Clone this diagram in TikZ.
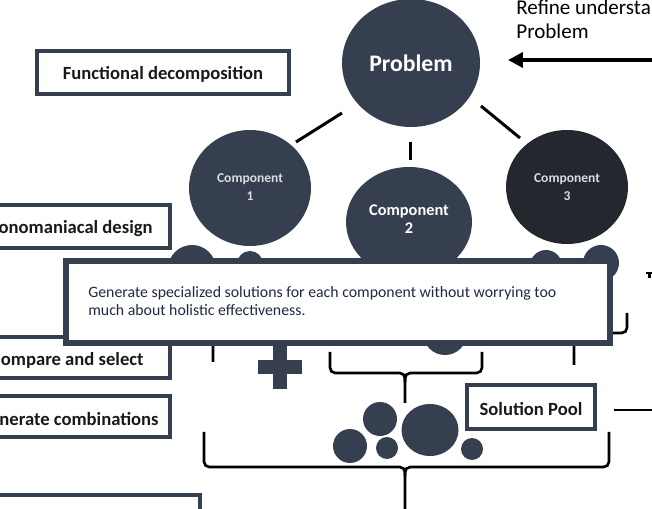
\documentclass[tikz,border=0pt]{standalone}
\usepackage{fontspec}
\setmainfont{Carlito}
\usetikzlibrary{arrows.meta}
\definecolor{slate}{HTML}{353F50}
\definecolor{darkslate}{HTML}{23282F}
\definecolor{bodyink}{HTML}{1E2A45}
\definecolor{pale}{HTML}{D9DCE1}
\def\curlybrace(#1:#2:#3)(#4:#5:#6){%
  \draw[braceline] (#1,#4) -- (#1,#5) -- (#2,#5) -- (#2,#6);
  \draw[braceline] (#3,#4) -- (#3,#5) -- (#2,#5) -- (#2,#5+9);}

\begin{document}
\begin{tikzpicture}[x=0.02cm,y=-0.02cm,
    braceline/.style={line width=1.5pt,rounded corners=3pt},
    stroke/.style={line width=1.7pt},
    boxline/.style={draw=slate,line width=2.3pt},
    boxtext/.style={font=\fontsize{10.6}{12}\selectfont\bfseries,text=black!90,inner sep=0pt},
    comptext/.style={font=\fontsize{7.7}{10.2}\selectfont\bfseries,text=pale,align=center,inner sep=0pt},
    bodytext/.style={font=\fontsize{9}{10}\selectfont,text=bodyink,inner sep=0pt,anchor=base west}]
			\useasboundingbox (0,0) rectangle (652,509);
			\clip (0,0) rectangle (652,509);
			%%%%% START %%%%%
			\fill[slate] (411,63) ellipse (69 and 64);
			\node[font=\fontsize{13.5}{16}\selectfont\bfseries, text=white] (prob) at (411,63) {Problem};
			\draw[-{Triangle[length=8.5pt,width=8.5pt]}, line width=2pt] (652,60) -- (508,60);
			\node[font=\fontsize{12}{14}\selectfont, anchor=base west, inner sep=0pt] (refineA) at (516,15) {Refine understa};
			\node[font=\fontsize{12}{14}\selectfont, anchor=base west, inner sep=0pt] (refineB) at (516,39) {Problem};
			
			\fill[slate] (250,188) ellipse (61 and 58);
			\node[comptext] (c1) at (250,187) {Component\\1};
			\fill[slate] (409,222) ellipse (63 and 55);
			\node[comptext, font=\fontsize{9.3}{10.2}\selectfont\bfseries, text=white] (c2) at (409,219) {Component\\2};
			\fill[darkslate] (567,187) ellipse (61 and 57);
			\node[comptext] (c3) at (567,187) {Component\\3};
			
			\draw[stroke] (342,113) -- (296,142);
			\draw[stroke] (481,106) -- (520,138);
			\draw[stroke] (410,142) -- (410,160);
			
			\fill[slate] (192,269) circle (24);
			\fill[slate] (250,264) circle (13);
			\fill[slate] (546,266) circle (16);
			\fill[slate] (601,263) circle (18);
			\fill[slate] (445,333) circle (22);
			
			\curlybrace(160:213:266)(313:333:362)
			\curlybrace(521:574:627)(313:333:365)
			\curlybrace(330:405:482)(352:373:403)
			\curlybrace(204:405:609)(432:467:520)
			
			\fill[slate] (273,345) rectangle (287,389);
			\fill[slate] (258,360) rectangle (302,374);
			
			\fill[slate] (380,419) circle (17);
			\fill[slate] (430,430) ellipse (28.5 and 26);
			\fill[slate] (350,446) circle (17);
			\fill[slate] (387,448) circle (11);
			\fill[slate] (472,449) circle (11);
			
			\draw[boxline] (37,51) rectangle (289,94);
			\node[boxtext] (fd) at (163,74) {Functional decomposition};
			\draw[boxline] (-20,205) rectangle (170,248);
			\node[boxtext, anchor=east] (mono) at (153,229) {onomaniacal design};
			\draw[boxline] (-20,337) rectangle (170,378);
			\node[boxtext, anchor=east] (cmp) at (144,360) {ompare and select};
			\draw[boxline] (-20,396) rectangle (170,437);
			\node[boxtext, anchor=east] (comb) at (159,419) {nerate combinations};
			\draw[boxline] (-20,495) rectangle (200,540);
			\draw[boxline] (467,385) rectangle (595,429);
			\node[boxtext] (pool) at (531,409) {Solution Pool};
			\draw[stroke] (614,410) -- (652,410);
			\draw[stroke] (646,273) -- (652,273);
			\draw[stroke] (649,273) -- (649,278);
			
			\draw[boxline, line width=3.1pt, fill=white] (66,261) rectangle (610,343);
			\node[bodytext] (gen1) at (88,298) {Generate specialized solutions for each component without worrying too};
			\node[bodytext] (gen2) at (88,316) {much about holistic effectiveness.};
			%%%%% END %%%%%
\end{tikzpicture}
\end{document}
